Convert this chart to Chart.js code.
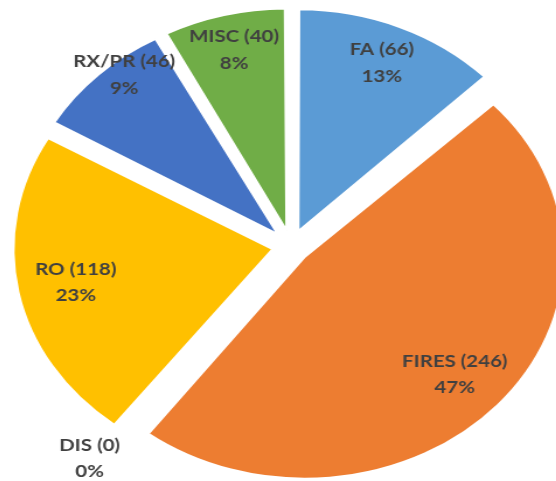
<!DOCTYPE html>
<html>
<head>
<meta charset="utf-8">
<script src="https://cdn.jsdelivr.net/npm/chart.js@4.4.1/dist/chart.umd.min.js"></script>
<style>
  html, body { margin: 0; padding: 0; background: #fff; overflow: hidden; }
  body { width: 556px; height: 481px; position: relative; }
  #pieChart { position: absolute; left: -36px; top: -34px; }
</style>
</head>
<body>
<!-- the reference picture is stretched sideways, so the canvas is too (inline so Chart.js keeps it) -->
<canvas id="pieChart" width="560" height="560" style="width:654px;height:560px"></canvas>
<script>
const categories = ['FA', 'FIRES', 'DIS', 'RO', 'RX/PR', 'MISC'];
const counts = [66, 246, 0, 118, 46, 40];
const percentLabels = ['13%', '47%', '0%', '23%', '9%', '8%'];

const sliceColors = ['#5B9BD5', '#ED7D31', '#A5A5A5', '#FFC000', '#4472C4', '#70AD47'];
// label placement: share of the radius, and a small turn (degrees) off the slice middle
const labelDistance = [0.896, 0.856, 1.232, 0.846, 1.004, 0.911];
const labelTurn = [0, 0.6, 1.4, 0, 4.1, 0];

const RADIUS = 222;
const EXPLODE = 64;

// keep every exploded slice the same size (Chart.js grows narrow ones)
const evenExplode = {
  id: 'evenExplode',
  beforeDatasetsDraw(chart) {
    chart.getDatasetMeta(0).data.forEach(arc => {
      const fix = 1 - Math.sin(Math.min(Math.PI, arc.circumference || 0));
      arc.outerRadius = RADIUS - (EXPLODE / 4) * fix;
    });
  }
};

// two-line labels: "NAME (n)" and "p%"
const sliceLabels = {
  id: 'sliceLabels',
  afterDatasetsDraw(chart) {
    const ctx = chart.ctx;
    ctx.save();
    ctx.font = 'bold 17.5px Lato, "Open Sans", sans-serif';
    ctx.fillStyle = '#404040';
    ctx.textAlign = 'center';
    ctx.textBaseline = 'middle';
    chart.getDatasetMeta(0).data.forEach((arc, i) => {
      const mid = (arc.startAngle + arc.endAngle) / 2 + labelTurn[i] * Math.PI / 180;
      const r = RADIUS * labelDistance[i];
      const x = arc.x + Math.cos(mid) * r;
      const y = arc.y + Math.sin(mid) * r;
      ctx.fillText(categories[i] + ' (' + counts[i] + ')', x, y - 13.25);
      ctx.fillText(percentLabels[i], x, y + 13.25);
    });
    ctx.restore();
  }
};

const ctx = document.getElementById('pieChart').getContext('2d');
new Chart(ctx, {
  type: 'pie',
  data: {
    labels: categories,
    datasets: [{
      data: counts,
      backgroundColor: sliceColors,
      borderColor: '#ffffff',
      borderWidth: 2,
      offset: EXPLODE,
      radius: RADIUS
    }]
  },
  options: {
    responsive: false,
    animation: false,
    layout: { padding: 0 },
    plugins: {
      legend: { display: false },
      tooltip: { enabled: false }
    }
  },
  plugins: [evenExplode, sliceLabels]
});
</script>
</body>
</html>
